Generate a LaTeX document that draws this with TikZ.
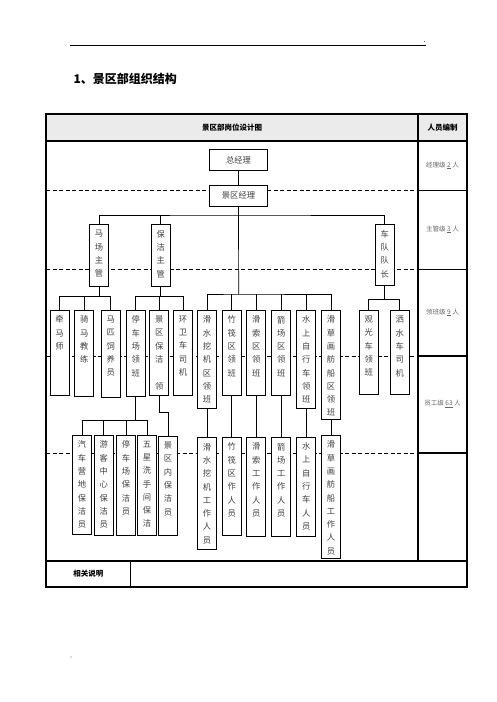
\documentclass[tikz,border=0pt]{standalone}
\usepackage{fontspec}
\setmainfont{Noto Sans CJK SC}
\usetikzlibrary{positioning}

% text of an upright post box, read from top to bottom
\newcommand{\vt}[2]{\parbox[c][#1pt][t]{12pt}{\centering\vspace*{5.5pt}#2}}

\begin{document}
\begin{tikzpicture}[
    x=1pt, y=-1pt,
    every node/.style={font=\fontsize{8.3}{13.3}\selectfont, text=black!75},
    vbox/.style={draw=black, fill=white, line width=0.9pt, anchor=north, minimum width=19pt, inner sep=0pt},
    hbox/.style={draw=black, fill=white, line width=0.9pt, minimum width=58pt, minimum height=21pt, inner sep=0pt},
    link/.style={line width=0.7pt},
    rule/.style={line width=1.1pt},
    lvl/.style={dash pattern=on 4pt off 2.5pt, line width=0.9pt},
    head/.style={font=\fontsize{7.5}{9}\selectfont\bfseries, text=black},
    quota/.style={font=\fontsize{6.5}{8}\selectfont, text=black!60}
  ]
    \useasboundingbox (0,0) rectangle (496,702);

    % page head
    \draw[line width=0.6pt] (70,45) -- (426,45);
    \fill[black!60] (424.5,41.5) circle (0.6);
    \node[anchor=west, font=\fontsize{12}{14}\selectfont\bfseries, text=black] (doctitle) at (70,79) {1、景区部组织结构};

    % table
    \fill[black!8] (46,114) rectangle (467,141);
    \draw[rule] (46,114) rectangle (467,587);
    \draw[rule] (46,141) -- (467,141);
    \draw[rule] (46,561) -- (467,561);
    \draw[rule] (418,114) -- (418,561);
    \draw[rule] (130.7,561) -- (130.7,587);
    \foreach \y in {190.7,269.3,356,453} {
      \draw[lvl] (46,\y) -- (418,\y);
      \draw[rule] (418,\y) -- (467,\y);
    }

    \node[head] (charthd) at (232,127.5) {景区部岗位设计图};
    \node[head] (staffhd) at (442.5,127.5) {人员编制};
    \node[head] (notehd) at (88.4,574) {相关说明};

    \node[quota] (q1) at (442.5,165.5) {经理级 \underline{2} 人};
    \node[quota] (q2) at (442.5,229.5) {主管级 \underline{3} 人};
    \node[quota] (q3) at (442.5,312.5) {领班级 \underline{9} 人};
    \node[quota] (q4) at (442.5,404) {员工级 \underline{63} 人};

    % managers
    \node[hbox] (zjl) at (238.5,160.2) {总经理};
    \node[hbox] (jqjl) at (238.5,195.8) {景区经理};

    % supervisors
    \node[vbox] (mczg) at (99,224.3) {\vt{61.7}{马\\场\\主\\管}};
    \node[vbox] (bjzg) at (160.8,224.3) {\vt{61.7}{保\\洁\\主\\管}};
    \node[vbox] (cdzd) at (384.7,224.3) {\vt{60.7}{车\\队\\队\\长}};

    % team leaders
    \node[vbox] (qms) at (59.5,310) {\vt{85.3}{牵\\马\\师}};
    \node[vbox] (qmjl) at (84.3,310) {\vt{86.3}{骑\\马\\教\\练}};
    \node[vbox] (mpsy) at (110.8,310) {\vt{87.3}{马\\匹\\饲\\养\\员}};
    \node[vbox] (tclb) at (135.8,310) {\vt{86.3}{停\\车\\场\\领\\班}};
    \node[vbox] (jqbj) at (159.3,310) {\vt{85.3}{景\\区\\保\\洁\\\mbox{}\\领}};
    \node[vbox] (hwcs) at (183,310) {\vt{85.3}{环\\卫\\车\\司\\机}};
    \node[vbox] (hswj) at (207,310) {\vt{98.3}{滑\\水\\挖\\机\\区\\领\\班}};
    \node[vbox] (zfq) at (231.8,310) {\vt{85.3}{竹\\筏\\区\\领\\班}};
    \node[vbox] (hsq) at (256.3,310) {\vt{85.3}{滑\\索\\区\\领\\班}};
    \node[vbox] (jcq) at (281.3,310) {\vt{85.3}{箭\\场\\区\\领\\班}};
    \node[vbox] (sszx) at (306.3,310) {\vt{98.3}{水\\上\\自\\行\\车\\领\\班}};
    \node[vbox] (hchf) at (331,310) {\vt{109.3}{滑\\草\\画\\舫\\船\\区\\领\\班}};
    \node[vbox] (ggc) at (368.8,310) {\vt{84.3}{观\\光\\车\\领\\班}};
    \node[vbox] (ssc) at (399.8,310) {\vt{84.3}{洒\\水\\车\\司\\机}};

    % staff
    \node[vbox] (qcyd) at (82,435) {\vt{99.3}{汽\\车\\营\\地\\保\\洁\\员}};
    \node[vbox] (ykzx) at (103.8,435) {\vt{100.3}{游\\客\\中\\心\\保\\洁\\员}};
    \node[vbox] (tcbj) at (126,435) {\vt{100.3}{停\\车\\场\\保\\洁\\员}};
    \node[vbox] (wxxs) at (147,435) {\vt{100.3}{五\\星\\洗\\手\\间\\保\\洁}};
    \node[vbox] (jqnb) at (168,436) {\vt{99.3}{景\\区\\内\\保\\洁\\员}};
    \node[vbox] (hswr) at (207,437.3) {\vt{112}{滑\\水\\挖\\机\\工\\作\\人\\员}};
    \node[vbox] (zfr) at (231.8,437) {\vt{98.3}{竹\\筏\\区\\作\\人\\员}};
    \node[vbox] (hsr) at (256.3,437) {\vt{99.3}{滑\\索\\工\\作\\人\\员}};
    \node[vbox] (jcr) at (281.3,437) {\vt{99.3}{箭\\场\\工\\作\\人\\员}};
    \node[vbox] (sszr) at (306.3,436.7) {\vt{99.6}{水\\上\\自\\行\\车\\人\\员}};
    \node[vbox] (hchr) at (331,435) {\vt{123.3}{滑\\草\\画\\舫\\船\\工\\作\\人\\员}};

    % bus points
    \coordinate (busA) at (238.7,215);
    \coordinate (busB) at (238.7,294);
    \coordinate (busM) at (99,296.7);
    \coordinate (busP) at (160.8,296.7);
    \coordinate (busC) at (384.7,299.3);
    \coordinate (busT) at (135.8,420.7);
    \coordinate (bendJ) at (168,412.3);

    \draw[link] (zjl) -- (jqjl);
    \draw[link] (jqjl.south) -- (busB);
    \draw[link] (mczg.north) |- (busA) -| (cdzd.north);
    \draw[link] (bjzg.north) -- (bjzg.north |- busA);

    \draw[link] (mczg.south) -- (busM);
    \draw[link] (qms.north) |- (busM) -| (mpsy.north);
    \draw[link] (qmjl.north) -- (qmjl.north |- busM);

    \draw[link] (bjzg.south) -- (busP);
    \draw[link] (tclb.north) |- (busP) -| (hwcs.north);
    \draw[link] (jqbj.north) -- (jqbj.north |- busP);

    \draw[link] (hswj.north) |- (busB) -| (hchf.north);
    \foreach \n in {zfq,hsq,jcq,sszx}
      \draw[link] (\n.north) -- (\n.north |- busB);

    \draw[link] (cdzd.south) -- (busC);
    \draw[link] (ggc.north) |- (busC) -| (ssc.north);

    \draw[link] (tclb.south) -- (busT);
    \draw[link] (qcyd.north) |- (busT) -| (wxxs.north);
    \draw[link] (ykzx.north) -- (ykzx.north |- busT);
    \draw[link] (tcbj.north) -- (tcbj.north |- busT);
    \draw[link] (jqbj.south) |- (bendJ) -- (jqnb.north);

    \foreach \a/\b in {hswj/hswr,zfq/zfr,hsq/hsr,jcq/jcr,sszx/sszr,hchf/hchr}
      \draw[link] (\a.south) -- (\b.north);

    \fill[black!60] (71,657) circle (0.6);
  \end{tikzpicture}
\end{document}
